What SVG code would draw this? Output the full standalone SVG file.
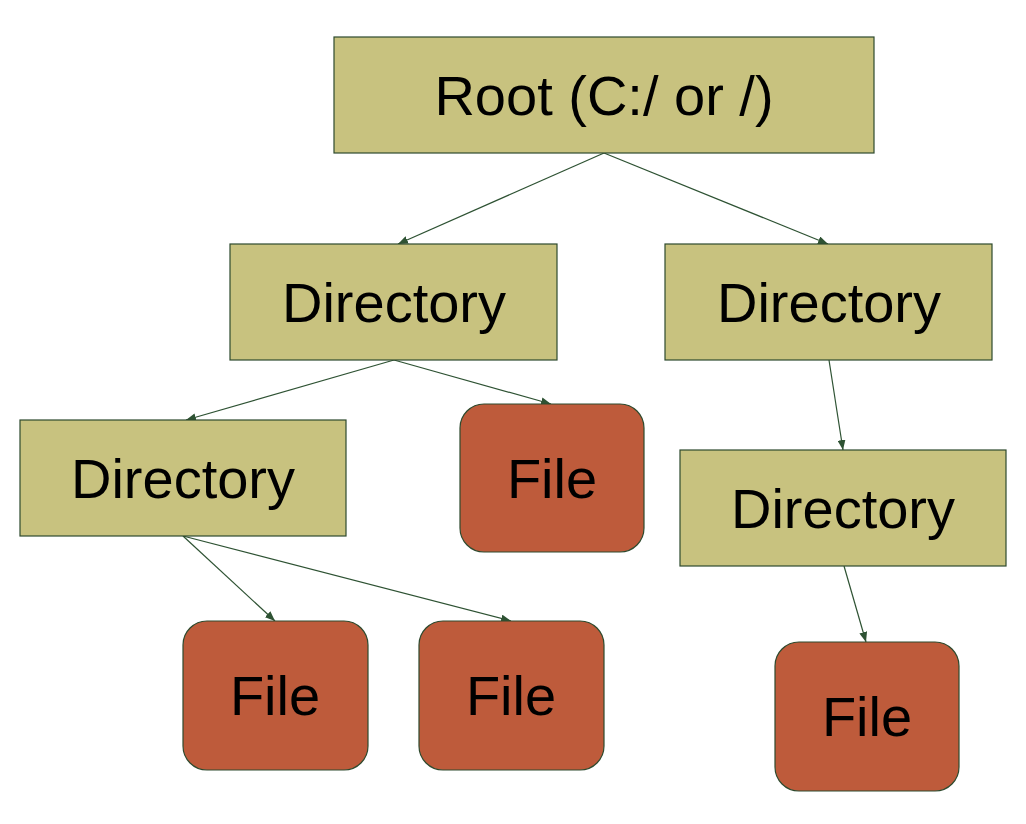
<svg xmlns="http://www.w3.org/2000/svg" width="1026" height="824" viewBox="0 0 1026 824">
<style>
.dir{fill:#c8c27f;stroke:#2e4a2e;stroke-width:1.2}
.file{fill:#be5b3b;stroke:#2e4a2e;stroke-width:1.2}
.t{font-family:"Liberation Sans",Arial,sans-serif;font-size:56px;fill:#000;text-anchor:middle}
.c{stroke:#2e5233;stroke-width:1.2;fill:none;marker-end:url(#ah)}
</style>
<defs>
<marker id="ah" viewBox="0 0 10 8" refX="10" refY="4" markerWidth="10" markerHeight="8" markerUnits="userSpaceOnUse" orient="auto">
<path d="M0,0 L10,4 L0,8 Z" fill="#2e5233"/>
</marker>
</defs>
<rect width="1026" height="824" fill="#fff"/>
<g id="connectors">
<line class="c" x1="604" y1="153" x2="398" y2="244"/>
<line class="c" x1="604" y1="153" x2="828" y2="244"/>
<line class="c" x1="394" y1="360" x2="186" y2="420"/>
<line class="c" x1="394" y1="360" x2="551" y2="404"/>
<line class="c" x1="829" y1="360" x2="843" y2="450"/>
<line class="c" x1="183" y1="536" x2="275" y2="621"/>
<line class="c" x1="183" y1="536" x2="511" y2="621"/>
<line class="c" x1="844" y1="566" x2="866" y2="642"/>
</g>
<g id="root"><rect class="dir" x="334" y="37" width="540" height="116"/><text class="t" x="604" y="115">Root (C:/ or /)</text></g>
<g id="dir1"><rect class="dir" x="230" y="244" width="327" height="116"/><text class="t" x="394" y="322">Directory</text></g>
<g id="dir2"><rect class="dir" x="665" y="244" width="327" height="116"/><text class="t" x="829" y="322">Directory</text></g>
<g id="dir3"><rect class="dir" x="20" y="420" width="326" height="116"/><text class="t" x="183" y="498">Directory</text></g>
<g id="dir4"><rect class="dir" x="680" y="450" width="326" height="116"/><text class="t" x="843" y="528">Directory</text></g>
<g id="file1"><rect class="file" x="460" y="404" width="184" height="148" rx="24"/><text class="t" x="552" y="498">File</text></g>
<g id="file2"><rect class="file" x="183" y="621" width="185" height="149" rx="24"/><text class="t" x="275" y="715">File</text></g>
<g id="file3"><rect class="file" x="419" y="621" width="185" height="149" rx="24"/><text class="t" x="511" y="715">File</text></g>
<g id="file4"><rect class="file" x="775" y="642" width="184" height="149" rx="24"/><text class="t" x="867" y="736">File</text></g>
</svg>
